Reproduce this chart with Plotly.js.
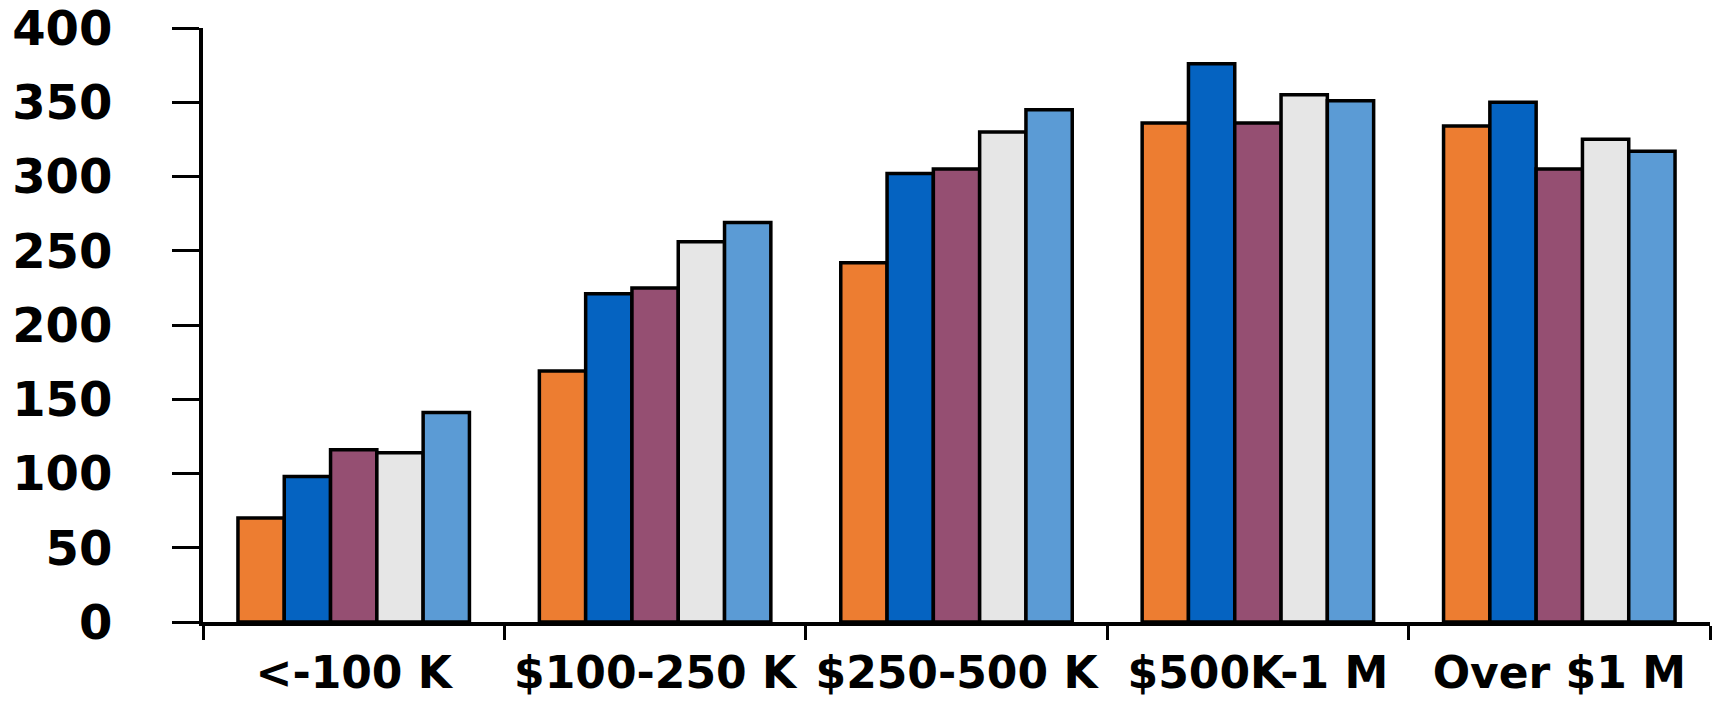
<!DOCTYPE html>
<html>
<head>
<meta charset="utf-8">
<script src="https://cdn.plot.ly/plotly-3.0.1.min.js"></script>
<style>html,body{margin:0;padding:0;background:#fff;}#chart{width:1717px;height:703px;}</style>
</head>
<body>
<div id="chart"></div>
<script>
const categories = ["<-100 K", "$100-250 K", "$250-500 K", "$500K-1 M", "Over $1 M"];
const series1 = [70, 169, 242, 336, 334];
const series2 = [98, 221, 302, 376, 350];
const series3 = [116, 225, 305, 336, 305];
const series4 = [114, 256, 330, 355, 325];
const series5 = [141, 269, 345, 351, 317];
const seriesNames = ["Series 1", "Series 2", "Series 3", "Series 4", "Series 5"];
const seriesColors = ["#ED7D31", "#0563C1", "#954F72", "#E6E6E6", "#5B9BD5"];
const yTicks = [0, 50, 100, 150, 200, 250, 300, 350, 400];

const allSeries = [series1, series2, series3, series4, series5];
const traces = allSeries.map((vals, i) => ({
  type: "bar",
  x: categories,
  y: vals,
  name: seriesNames[i],
  marker: {color: seriesColors[i], line: {color: "#000", width: 3.5}},
  hoverinfo: "x+y"
}));

const layout = {
  width: 1717, height: 703,
  margin: {l: 203, r: 7, t: 28, b: 81},
  paper_bgcolor: "#fff", plot_bgcolor: "#fff",
  showlegend: false,
  barmode: "group",
  bargap: 0.232,
  bargroupgap: 0,
  font: {family: "DejaVu Sans", color: "#000"},
  xaxis: {
    type: "category",
    showline: true, linecolor: "#000", linewidth: 4,
    showgrid: false, zeroline: false,
    ticks: "outside", tickson: "boundaries", ticklen: 14, tickwidth: 3, tickcolor: "#000",
    tickangle: 0,
    tickfont: {family: "DejaVu Sans", size: 44, weight: "bold", color: "#000"},
    ticklabelstandoff: 9,
    ticklabeloverflow: "allow"
  },
  yaxis: {
    range: [0, 400],
    tickvals: yTicks,
    ticktext: yTicks.map(String),
    showline: true, linecolor: "#000", linewidth: 4,
    showgrid: false, zeroline: false,
    ticks: "outside", ticklen: 27, tickwidth: 3, tickcolor: "#000",
    tickfont: {family: "DejaVu Sans", size: 48, weight: "bold", color: "#000"},
    ticklabelstandoff: 50,
    ticklabeloverflow: "allow"
  }
};

Plotly.newPlot("chart", traces, layout, {displayModeBar: false, staticPlot: true});
</script>
</body>
</html>
